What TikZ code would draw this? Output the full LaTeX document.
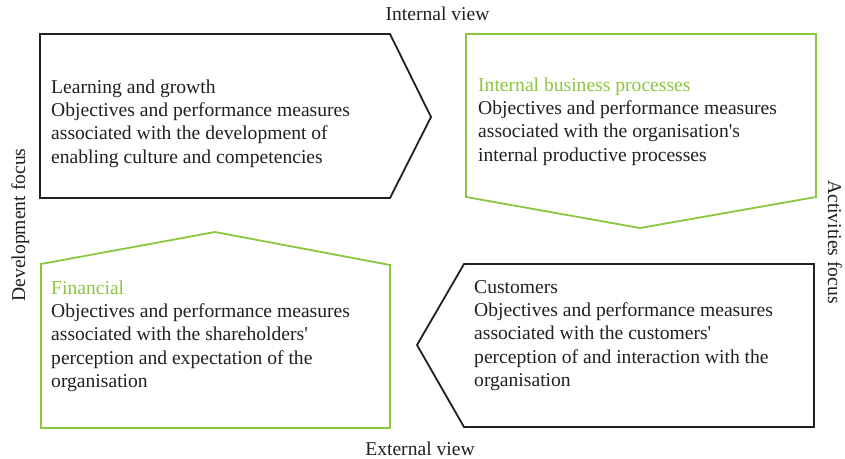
\documentclass[tikz,border=0pt]{standalone}
\usepackage{fontspec}
\setmainfont{Liberation Serif}
\definecolor{leaf}{RGB}{140,198,63}
\definecolor{ink}{RGB}{35,31,32}
\newcommand{\apos}{\textquotesingle}
\begin{document}
\begin{tikzpicture}[x=1pt,y=-1pt,
  panel/.style={line width=1.8pt,line join=miter},
  darkpanel/.style={panel,draw=ink},
  greenpanel/.style={panel,draw=leaf},
  body/.style={anchor=base west,inner sep=0pt,text=ink,
    font=\fontsize{19.6}{23.4}\selectfont},
  axislabel/.style={inner sep=0pt,text=ink,font=\fontsize{19.6}{23.4}\selectfont}]
\useasboundingbox (0,0) rectangle (845,458);

% four perspectives as pointed panels
\draw[darkpanel] (40,34) -- (390,34) -- (431,117) -- (390,198) -- (40,198) -- cycle;
\draw[greenpanel] (466,34) -- (816,34) -- (816,197) -- (640,228) -- (466,197) -- cycle;
\draw[greenpanel] (41,264) -- (215,232) -- (390,265) -- (390,428) -- (41,428) -- cycle;
\draw[darkpanel] (464,264) -- (814,264) -- (814,427) -- (464,427) -- (417,345) -- cycle;

% panel texts
\node[body] (learn) at (51,93) {\parbox[t]{330pt}{Learning and growth\\
Objectives and performance measures\\
associated with the development of\\
enabling culture and competencies}};
\node[body] (process) at (478,91) {\parbox[t]{330pt}{\textcolor{leaf}{Internal business processes}\\
Objectives and performance measures\\
associated with the organisation\apos s\\
internal productive processes}};
\node[body] (finance) at (51,294) {\parbox[t]{330pt}{\textcolor{leaf}{Financial}\\
Objectives and performance measures\\
associated with the shareholders\apos\\
perception and expectation of the\\
organisation}};
\node[body] (customer) at (474,293) {\parbox[t]{330pt}{Customers\\
Objectives and performance measures\\
associated with the customers\apos\\
perception of and interaction with the\\
organisation}};

% axis labels
\node[axislabel,anchor=base] (internal) at (437.5,20) {Internal view};
\node[axislabel,anchor=base] (external) at (420,455) {External view};
\node[axislabel,anchor=base,rotate=90] (devel) at (25,225) {Development focus};
\node[axislabel,anchor=base,rotate=-90] (activ) at (828,242) {Activities focus};
\end{tikzpicture}
\end{document}
